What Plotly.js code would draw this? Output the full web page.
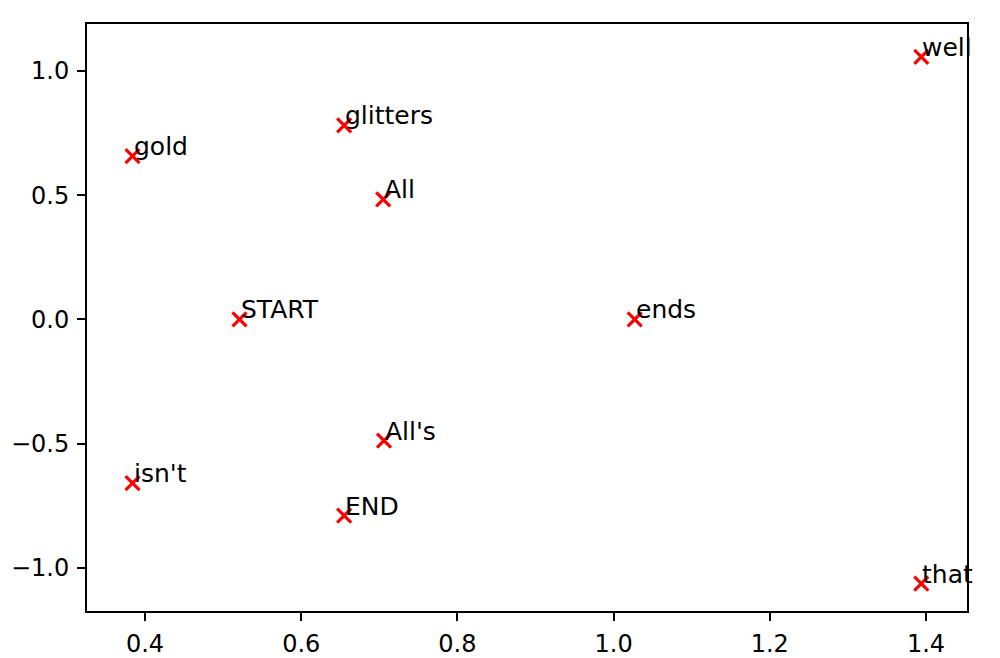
<!DOCTYPE html>
<html>
<head>
<meta charset="utf-8">
<script src="https://cdn.plot.ly/plotly-3.0.1.min.js"></script>
<style>html,body{margin:0;padding:0;background:#fff;}#chart{width:1000px;height:658px;}</style>
</head>
<body>
<div id="chart"></div>
<script>
const words = ["All", "All's", "END", "START", "ends", "glitters", "gold", "isn't", "that", "well"];
const xVals = [0.705, 0.706, 0.655, 0.521, 1.027, 0.655, 0.384, 0.384, 1.394, 1.394];
const yVals = [0.483, -0.488, -0.790, 0.0, 0.0, 0.781, 0.657, -0.659, -1.064, 1.057];
const xTicks = [0.4, 0.6, 0.8, 1.0, 1.2, 1.4];
const yTicks = [-1.0, -0.5, 0.0, 0.5, 1.0];

const font = "DejaVu Sans, sans-serif";

const trace = {
  x: xVals, y: yVals, type: "scatter", mode: "markers",
  marker: {symbol: "x-thin-open", size: 14, color: "#ff0000", line: {color: "#ff0000", width: 3.2}},
  hoverinfo: "none", showlegend: false
};

const annotations = words.map((w, i) => ({
  x: xVals[i], y: yVals[i], xref: "x", yref: "y", text: w, showarrow: false,
  xanchor: "left", yanchor: "bottom", xshift: -1, yshift: -7,
  font: {family: font, size: 25, color: "#000"}
}));

const axisCommon = {
  showgrid: false, zeroline: false, showline: true, mirror: true,
  linecolor: "#000", linewidth: 2, ticks: "outside", ticklen: 8, tickwidth: 2,
  tickcolor: "#000", tickfont: {family: font, size: 24, color: "#000"}, tickformat: ".1f"
};

const layout = {
  width: 1000, height: 658,
  margin: {l: 87, r: 33, t: 24, b: 47},
  paper_bgcolor: "#fff", plot_bgcolor: "#fff",
  xaxis: Object.assign({}, axisCommon, {range: [0.3257, 1.4525], tickvals: xTicks, ticklabelstandoff: 2}),
  yaxis: Object.assign({}, axisCommon, {range: [-1.174, 1.189], tickvals: yTicks, ticklabelstandoff: 3}),
  annotations: annotations
};

Plotly.newPlot("chart", [trace], layout, {displayModeBar: false, staticPlot: true});
</script>
</body>
</html>
